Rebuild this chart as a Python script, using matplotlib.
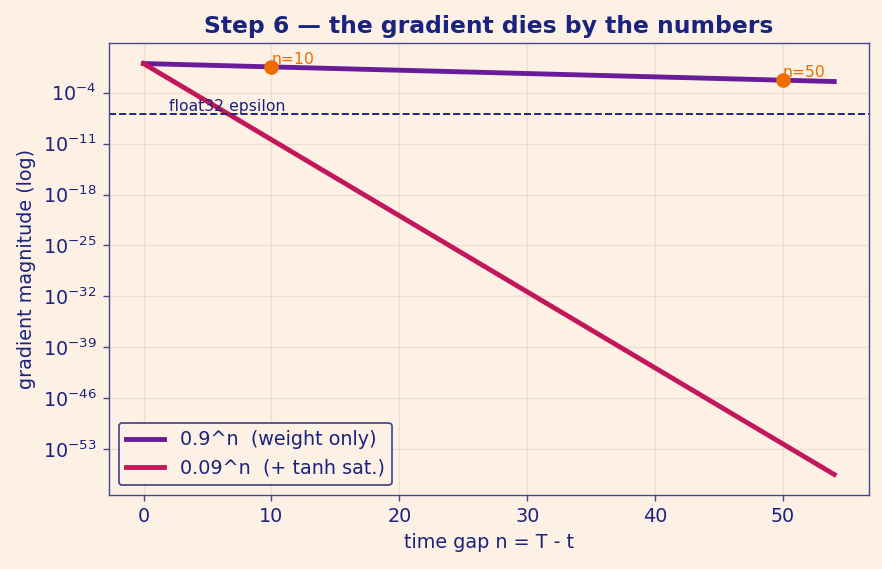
import matplotlib
matplotlib.use("Agg")
import matplotlib.pyplot as plt

# (straight lines on a log axis)
n_gap = [0, 54]
weight_only = [1.0, 3.4e-3]      # 0.9^n
tanh_sat = [1.0, 3.4e-57]        # 0.09^n
mark_n = [10, 50]
mark_val = [0.35, 5.2e-3]
mark_lbl = ["n=10", "n=50"]
eps32 = 1.19e-7
ytick_exp = [-4, -11, -18, -25, -32, -39, -46, -53]

bg = "#fdf1e6"
navy = "#1a237e"

fig = plt.figure(figsize=(7.056, 4.552), dpi=125, facecolor=bg)
ax = fig.add_axes([0.1236, 0.13, 0.8614, 0.7944], facecolor=bg)

ax.plot(n_gap, weight_only, color="#6a1b9a", lw=2.8, label="0.9^n  (weight only)")
ax.plot(n_gap, tanh_sat, color="#c2185b", lw=2.8, label="0.09^n  (+ tanh sat.)")
ax.set_yscale("log")

ax.axhline(eps32, color=navy, ls="--", lw=1.1)
ax.text(2, eps32, "float32 epsilon", color=navy, fontsize=9, va="bottom", ha="left")

ax.scatter(mark_n, mark_val, color="#ef6c00", s=55, zorder=5)
for x, v, t in zip(mark_n, mark_val, mark_lbl):
    ax.text(x, v, t, color="#ef6c00", fontsize=9, ha="left", va="bottom")

ax.set_yticks([10.0 ** e for e in ytick_exp])
ax.minorticks_off()
ax.grid(True, color="#e6d8c8", lw=0.8, alpha=0.7)
ax.set_axisbelow(True)

for s in ax.spines.values():
    s.set_color("#46468c")
ax.tick_params(colors="#46468c", labelcolor=navy, labelsize=11)
ax.set_xlabel("time gap n = T - t", color=navy, fontsize=11)
ax.set_ylabel("gradient magnitude (log)", color=navy, fontsize=11)
ax.set_title("Step 6 — the gradient dies by the numbers", color=navy,
             fontsize=13.5, fontweight="bold")

leg = ax.legend(loc="lower left", fontsize=11, facecolor=bg, edgecolor="#46468c",
                framealpha=1, labelcolor=navy)

fig.savefig("out.png", dpi=125, facecolor=bg)
